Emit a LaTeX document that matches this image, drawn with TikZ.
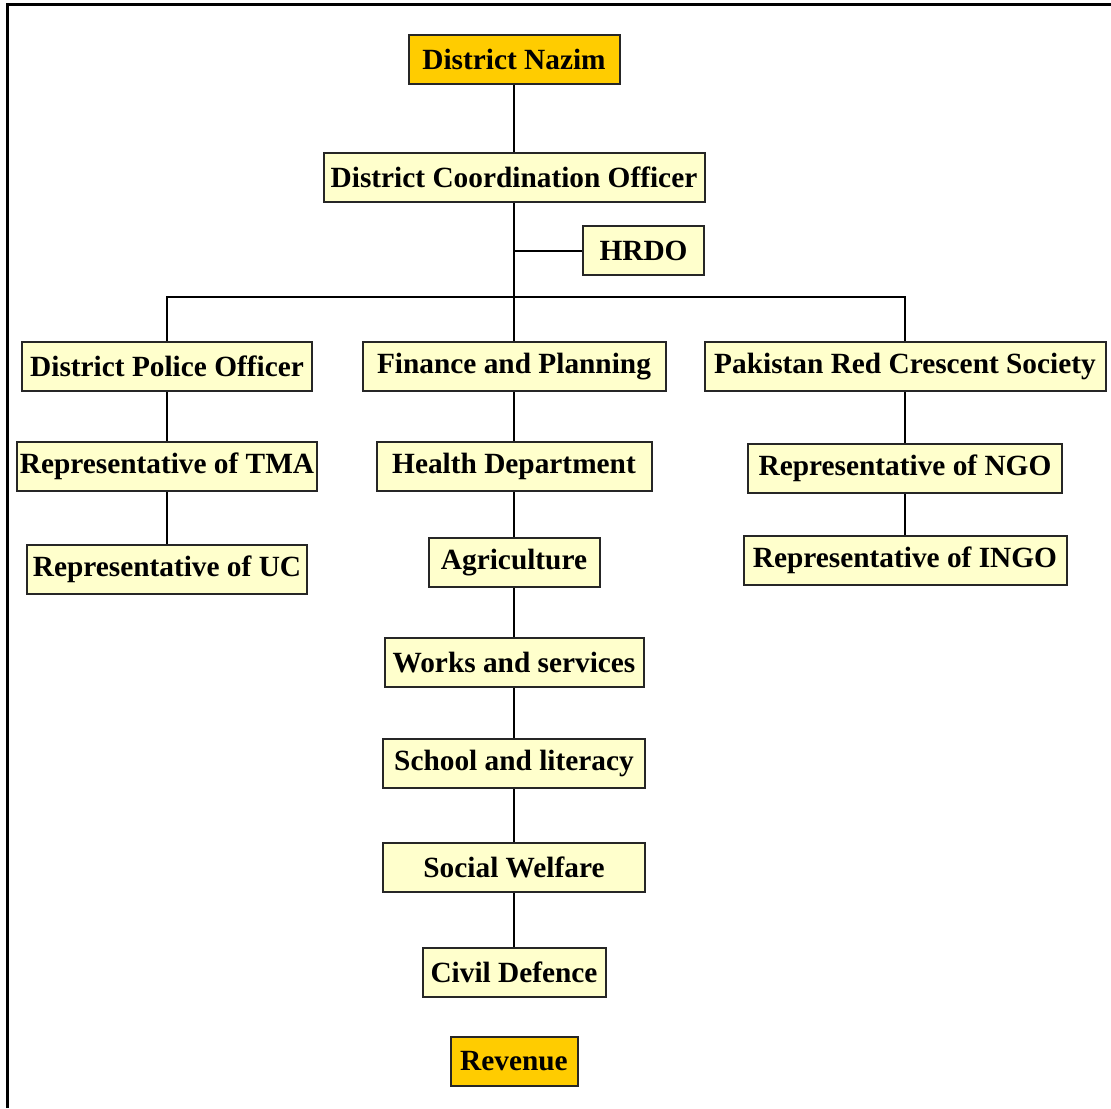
\documentclass[tikz,border=0pt]{standalone}
\usepackage{fontspec}
\setmainfont{Liberation Serif}
\definecolor{paleyellow}{HTML}{FFFFCC}
\definecolor{gold}{HTML}{FFCC00}
\tikzset{
    unit/.style={draw=black!85, line width=1.5pt, fill=paleyellow, inner sep=0pt,
        minimum height=36.75pt, font=\bfseries\fontsize{22}{25}\selectfont},
    headunit/.style={unit, fill=gold},
    wd/.style={minimum width=#1*0.75pt},
    link/.style={line width=1.5pt}
}
\begin{document}
\begin{tikzpicture}[x=0.75pt, y=-0.75pt]
    \useasboundingbox (0,0) rectangle (1111,1108);
    % frame
    \draw[line width=2.25pt] (7.5,1108) -- (7.5,4.5) -- (1111,4.5);

    % top of the chart
    \node[headunit, wd=211] (nazim) at (514,59.5) {District Nazim};
    \node[unit, wd=381] (dco) at (514,177.5) {District Coordination Officer};
    \node[unit, wd=121] (hrdo) at (643.5,250.5) {HRDO};
    \coordinate (bus) at (514,297);

    % left column
    \node[unit, wd=290] (dpo) at (167,366.5) {District Police Officer};
    \node[unit, wd=300] (tma) at (167,466.5) {Representative of TMA};
    \node[unit, wd=280] (uc) at (167,569.5) {Representative of UC};

    % middle column
    \node[unit, wd=303] (fin) at (514,366.5) {Finance and Planning};
    \node[unit, wd=275] (health) at (514,466.5) {Health Department};
    \node[unit, wd=171] (agri) at (514,562.5) {Agriculture};
    \node[unit, wd=259] (works) at (514,662.5) {Works and services};
    \node[unit, wd=262] (school) at (514,763.5) {School and literacy};
    \node[unit, wd=262] (social) at (514,867.5) {Social Welfare};
    \node[unit, wd=183] (civil) at (514,972.5) {Civil Defence};
    \node[headunit, wd=127] (revenue) at (514,1061) {Revenue};

    % right column
    \node[unit, wd=401] (prcs) at (905,366.5) {Pakistan Red Crescent Society};
    \node[unit, wd=314] (ngo) at (905,468.5) {Representative of NGO};
    \node[unit, wd=323] (ingo) at (905,560.5) {Representative of INGO};

    % connectors
    \draw[link] (nazim) -- (dco);
    \draw[link] (dco) -- (fin);
    \draw[link] (hrdo.west) -- (hrdo.west -| dco.south);
    \draw[link] (dpo.north) |- (bus) -| (prcs.north);
    \foreach \a/\b in {dpo/tma, tma/uc, fin/health, health/agri, agri/works,
        works/school, school/social, social/civil, prcs/ngo, ngo/ingo}
        \draw[link] (\a) -- (\b);
\end{tikzpicture}
\end{document}
